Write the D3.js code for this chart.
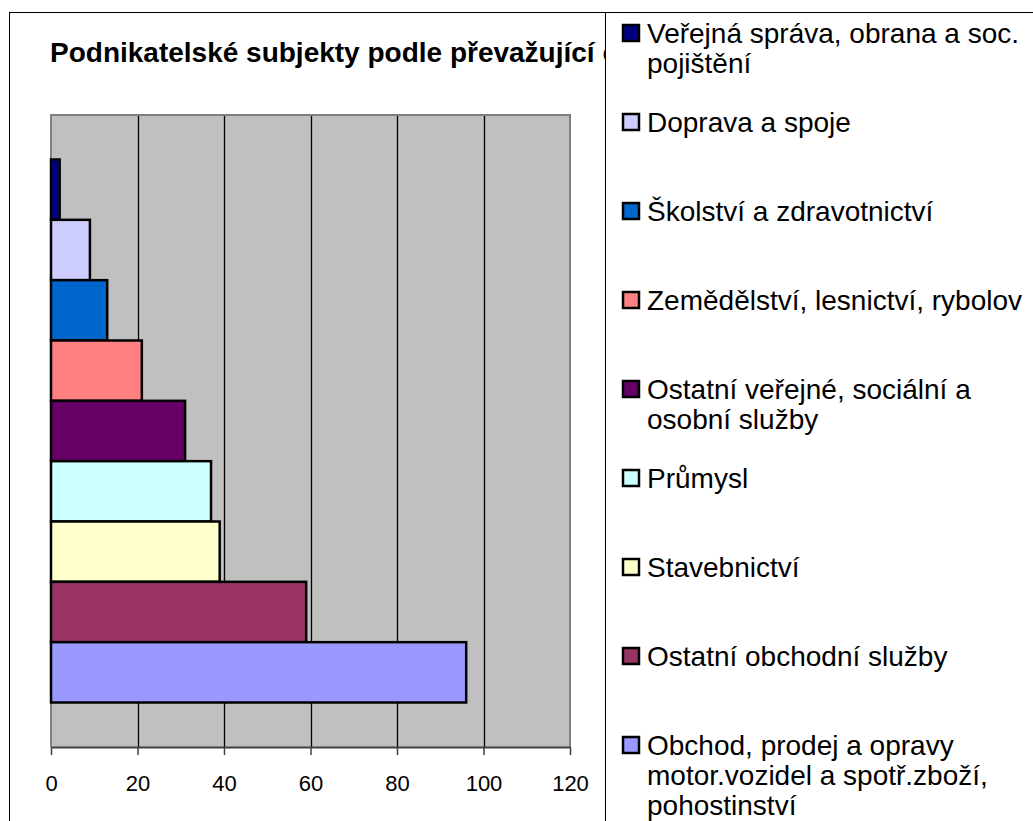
<!DOCTYPE html>
<html><head><meta charset="utf-8">
<script src="https://cdn.jsdelivr.net/npm/d3@7"></script>
<style>body{margin:0;background:#fff} svg{display:block}</style>
</head><body>
<svg id="chart" width="1033" height="821"></svg>
<script>
const titleText = "Podnikatelské subjekty podle převažující č";
const categories = [
  "Veřejná správa, obrana a soc. pojištění",
  "Doprava a spoje",
  "Školství a zdravotnictví",
  "Zemědělství, lesnictví, rybolov",
  "Ostatní veřejné, sociální a osobní služby",
  "Průmysl",
  "Stavebnictví",
  "Ostatní obchodní služby",
  "Obchod, prodej a opravy motor.vozidel a spotř.zboží, pohostinství"
];
const values = [2, 9, 13, 21, 31, 37, 39, 59, 96];
const colors = ["#000080","#CCCCFF","#0066CC","#FF8080","#660066","#CCFFFF","#FFFFCC","#993366","#9999FF"];
const xTicks = [0, 20, 40, 60, 80, 100, 120];

const plot = {left: 51, right: 570, top: 115, bottom: 747};
const FONT = "'Liberation Sans', Arial, sans-serif";
const svg = d3.select("#chart");

// outer chart frame
svg.append("rect").attr("x", 9.5).attr("y", 12.5).attr("width", 1100).attr("height", 900)
  .attr("fill", "#fff").attr("stroke", "#000").attr("stroke-width", 1);

// title (cut off by the legend box, as in the reference)
svg.append("text").attr("x", 50).attr("y", 62)
  .attr("font-family", FONT).attr("font-weight", "bold").attr("font-size", 28)
  .attr("fill", "#000").text(titleText);

const x = d3.scaleLinear().domain([0, 120]).range([plot.left, plot.right]);
const y = d3.scaleBand().domain(categories).range([plot.top, plot.bottom])
  .paddingInner(0).paddingOuter(0.7375);

// plot background
svg.append("rect").attr("x", plot.left).attr("y", plot.top)
  .attr("width", plot.right - plot.left).attr("height", plot.bottom - plot.top)
  .attr("fill", "#C0C0C0");

// gridlines
svg.append("g").selectAll("line").data(xTicks.slice(1, -1)).join("line")
  .attr("x1", d => Math.round(x(d)) + 0.5).attr("x2", d => Math.round(x(d)) + 0.5)
  .attr("y1", plot.top).attr("y2", plot.bottom)
  .attr("stroke", "#000").attr("stroke-width", 1.3);

// plot border (top, left, right)
svg.append("path")
  .attr("d", `M${plot.left},${plot.bottom}V${plot.top}H${plot.right}V${plot.bottom}`)
  .attr("fill", "none").attr("stroke", "#808080").attr("stroke-width", 2);

// bars
svg.append("g").selectAll("rect").data(categories).join("rect")
  .attr("x", x(0)).attr("y", d => y(d))
  .attr("width", (d, i) => x(values[i]) - x(0)).attr("height", y.bandwidth())
  .attr("fill", (d, i) => colors[i]).attr("stroke", "#000").attr("stroke-width", 2.5);

// x axis
const axis = svg.append("g").attr("transform", `translate(0,${plot.bottom})`)
  .call(d3.axisBottom(x).tickValues(xTicks).tickSizeInner(8).tickSizeOuter(0).tickPadding(20));
axis.select(".domain").attr("stroke", "#404040").attr("stroke-width", 2);
axis.selectAll(".tick line").attr("stroke", "#404040").attr("stroke-width", 1.5);
axis.selectAll(".tick text").attr("font-family", FONT).attr("font-size", 22).attr("fill", "#000");

// legend box
svg.append("rect").attr("x", 605.5).attr("y", 12.5).attr("width", 600).attr("height", 900)
  .attr("fill", "#fff").attr("stroke", "#000").attr("stroke-width", 1);

const legFont = 28, legLine = 30, legStep = 89, legFirst = 33, legTextX = 647, legMax = 385;
const leg = svg.append("g").attr("font-family", FONT).attr("font-size", legFont).attr("fill", "#000");

function wrap(str) {
  const words = str.split(" ");
  const t = leg.append("text").attr("visibility", "hidden");
  const lines = [];
  let cur = "";
  for (const w of words) {
    const test = cur ? cur + " " + w : w;
    t.text(test);
    if (t.node().getComputedTextLength() > legMax && cur) { lines.push(cur); cur = w; }
    else cur = test;
  }
  if (cur) lines.push(cur);
  t.remove();
  return lines;
}

categories.forEach((c, i) => {
  const cy = legFirst + legStep * i;
  leg.append("rect").attr("x", 623).attr("y", cy - 8).attr("width", 16).attr("height", 16)
    .attr("fill", colors[i]).attr("stroke", "#000").attr("stroke-width", 2.5);
  const lines = wrap(c);
  const t = leg.append("text").attr("x", legTextX).attr("y", cy + 10);
  lines.forEach((l, j) => {
    t.append("tspan").attr("x", legTextX).attr("y", cy + 10 + j * legLine).text(l);
  });
});
</script>
</body></html>
